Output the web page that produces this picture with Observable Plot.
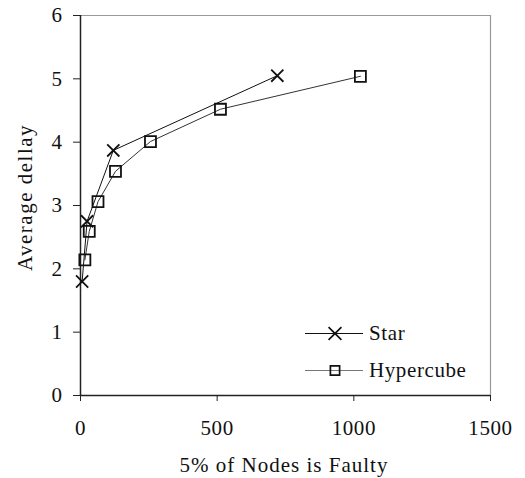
<!DOCTYPE html>
<html><head><meta charset="utf-8">
<script src="https://cdn.jsdelivr.net/npm/d3@7"></script>
<script src="https://cdn.jsdelivr.net/npm/@observablehq/plot@0.6"></script>
<style>
body{margin:0;background:#fff;}
</style>
</head><body>
<div id="chart"></div>
<script>
const starX = [6, 24, 120, 720];
const starY = [1.80, 2.75, 3.87, 5.05];
const cubeX = [16, 32, 64, 128, 256, 512, 1024];
const cubeY = [2.14, 2.59, 3.06, 3.54, 4.01, 4.52, 5.04];
const xTicks = [0, 500, 1000, 1500];
const yTicks = [0, 1, 2, 3, 4, 5, 6];
const seriesNames = ["Star", "Hypercube"];
const xLabel = "5% of Nodes is Faulty";
const yLabel = "Average dellay";

const star = starX.map((x, i) => ({x, y: starY[i]}));
const cube = cubeX.map((x, i) => ({x, y: cubeY[i]}));

const plot = Plot.plot({
  width: 525, height: 478,
  marginLeft: 80, marginRight: 35, marginTop: 15, marginBottom: 83,
  style: {fontFamily: "Liberation Serif, serif", fontSize: "21px", background: "#fff", overflow: "visible", color: "#111"},
  x: {domain: [0, 1500]},
  y: {domain: [0, 6]},
  marks: [
    Plot.ruleY([6], {stroke: "#999", strokeWidth: 1.2}),
    Plot.ruleX([1500], {stroke: "#999", strokeWidth: 1.2}),
    Plot.ruleX([0], {stroke: "#222", strokeWidth: 1.5}),
    Plot.ruleY([0], {stroke: "#222", strokeWidth: 1.5}),
    Plot.axisX({ticks: xTicks, tickSize: 6, tickPadding: 19, tickFormat: d => String(d), label: null, stroke: "#222", strokeOpacity: 1, fill: "#111"}),
    Plot.axisY({ticks: yTicks, tickSize: 7, tickPadding: 11, tickFormat: d => String(d), label: null, stroke: "#222", strokeOpacity: 1, fill: "#111"}),
    Plot.line(star, {x: "x", y: "y", stroke: "#111", strokeWidth: 1}),
    Plot.line(cube, {x: "x", y: "y", stroke: "#333", strokeWidth: 1}),
    Plot.dot(star, {x: "x", y: "y", symbol: "times", r: 5.6, stroke: "#111", strokeWidth: 1.8}),
    Plot.dot(cube, {x: "x", y: "y", symbol: "square", r: 6.2, stroke: "#111", fill: "none", strokeWidth: 1.8})
  ]
});
document.getElementById("chart").appendChild(plot);

const svg = d3.select(plot);
// legend
const leg = svg.append("g");
const sym = [d3.symbolTimes, d3.symbolSquare];
const strokes = ["#111", "#777"];
seriesNames.forEach((name, i) => {
  const cy = 333.5 + i * 37;
  leg.append("line").attr("x1", 305).attr("x2", 363).attr("y1", cy).attr("y2", cy)
    .attr("stroke", strokes[i]).attr("stroke-width", 1.2);
  leg.append("path").attr("d", d3.symbol(sym[i], i === 0 ? 110 : 85)())
    .attr("transform", `translate(335,${cy})`)
    .attr("fill", "none").attr("stroke", "#111").attr("stroke-width", 1.7);
  leg.append("text").attr("x", 369).attr("y", cy + 6.5)
    .attr("text-anchor", "start").text(name);
});
svg.selectAll("text")
  .style("font-family", "'Liberation Serif', 'Times New Roman', serif")
  .style("font-size", "21px")
  .style("letter-spacing", "0.6px")
  .style("fill", "#111");

// axis titles
svg.append("text").attr("x", 284).attr("y", 472)
  .attr("text-anchor", "middle").text(xLabel)
  .style("font-family", "'Liberation Serif', 'Times New Roman', serif")
  .style("font-size", "21px").style("letter-spacing", "1px").style("fill", "#111");
svg.append("text").attr("transform", "translate(32,197.5) rotate(-90)")
  .attr("text-anchor", "middle").text(yLabel)
  .style("font-family", "'Liberation Serif', 'Times New Roman', serif")
  .style("font-size", "21px").style("letter-spacing", "1.5px").style("fill", "#111");
</script>
</body></html>
